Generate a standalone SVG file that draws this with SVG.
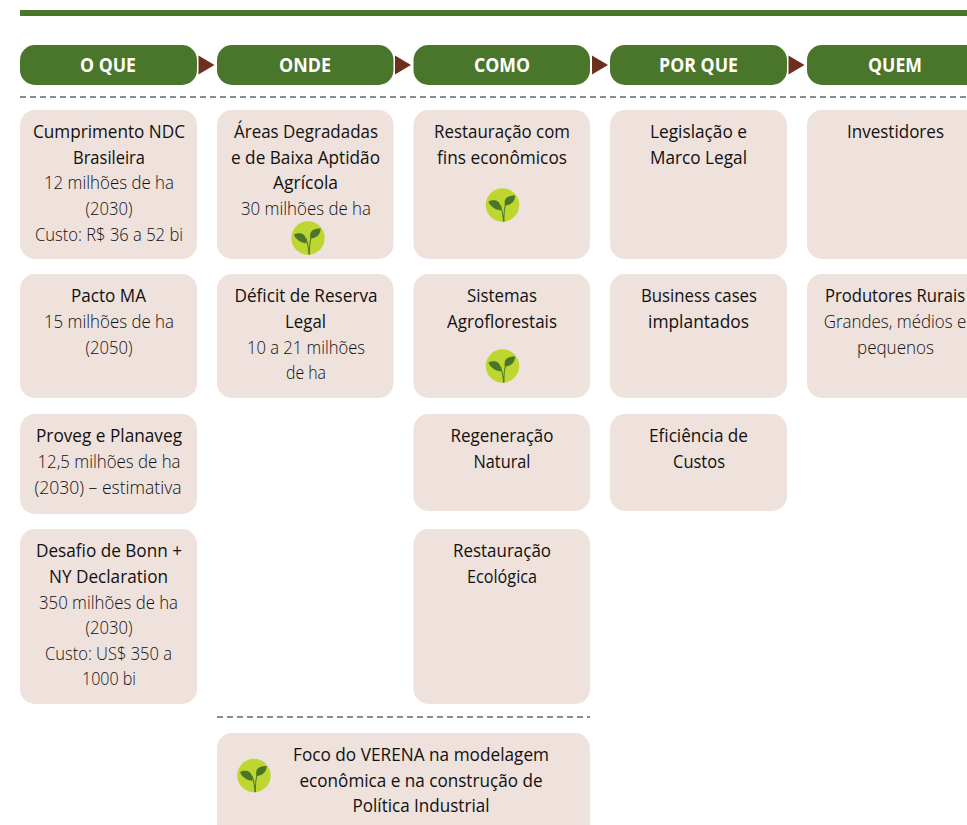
<svg xmlns="http://www.w3.org/2000/svg" width="967" height="825" viewBox="0 0 967 825">
<style>
text{font-family:"Open Sans","Noto Sans","Liberation Sans",sans-serif;text-anchor:middle;}
.h{font-size:20px;font-weight:700;fill:#fff}
.t{font-size:18px;font-weight:400;fill:#111}
.l{font-size:18px;font-weight:300;fill:#111}
.hd{fill:#4a762b}
.b{fill:#efe1dc}
.d{stroke:#8a8c8e;stroke-width:2;stroke-dasharray:6 4;fill:none}
.a{fill:#6e2f1f}
</style>
<defs>
<g id="sprout">
<circle cx="0" cy="0" r="16.7" fill="#bed630"/>
<path d="M-2.500 1C-0.500 6 0 11 0.500 16.700L2 16.700C2 10 2 5 3.500 0L2.500 -1C1.500 3 1 7 1 11C0.500 7-0.500 3-1.500 0Z" fill="#4f7d2c"/>
<path d="M-14 -3.500C-11 -5-6 -5.500-3.500 -2.500C-2 -0.500-1.500 3-1.500 5.500C-4 5-7.500 4.500-10 2C-12 0.500-13.500 -1.500-14 -3.500Z" fill="#4a762b"/>
<path d="M12.700 -9.500C9 -9.500 5 -9 3 -6C1.800 -4 2 -1.500 2.500 0.500C5 0.500 8 -0.500 10 -2.500C11.800 -4.500 12.500 -7 12.700 -9.500Z" fill="#4a762b"/>
</g>
</defs>
<rect x="20" y="10" width="947" height="6" fill="#4a762b"/>
<g id="connectors">
<path class="a" d="M198.500 55.500L214.500 65L198.500 74.500Z"/>
<path class="a" d="M395 55.500L411 65L395 74.500Z"/>
<path class="a" d="M592 55.500L608 65L592 74.500Z"/>
<path class="a" d="M788.500 55.500L804.500 65L788.500 74.500Z"/>
<path class="d" d="M20 97H967"/>
<path class="d" d="M217 717H590"/>
</g>
<g id="h1"><rect class="hd" x="20" y="45" width="177" height="40" rx="15"/><text class="h" x="108" y="71.500" textLength="56" lengthAdjust="spacingAndGlyphs">O QUE</text></g>
<g id="h2"><rect class="hd" x="217" y="45" width="176.500" height="40" rx="15"/><text class="h" x="305" y="71.500" textLength="52" lengthAdjust="spacingAndGlyphs">ONDE</text></g>
<g id="h3"><rect class="hd" x="413.500" y="45" width="176.500" height="40" rx="15"/><text class="h" x="502" y="71.500" textLength="56" lengthAdjust="spacingAndGlyphs">COMO</text></g>
<g id="h4"><rect class="hd" x="610" y="45" width="177" height="40" rx="15"/><text class="h" x="698.500" y="71.500" textLength="79" lengthAdjust="spacingAndGlyphs">POR QUE</text></g>
<g id="h5"><rect class="hd" x="807" y="45" width="180" height="40" rx="15"/><text class="h" x="895" y="71.500" textLength="54" lengthAdjust="spacingAndGlyphs">QUEM</text></g>

<g id="n1"><rect class="b" x="20" y="110" width="177" height="149" rx="15"/>
<text class="t" x="109" y="138" textLength="152" lengthAdjust="spacingAndGlyphs">Cumprimento NDC</text>
<text class="t" x="109" y="164" textLength="72" lengthAdjust="spacingAndGlyphs">Brasileira</text>
<text class="l" x="109" y="189" textLength="130" lengthAdjust="spacingAndGlyphs">12 milhões de ha</text>
<text class="l" x="109" y="215" textLength="47" lengthAdjust="spacingAndGlyphs">(2030)</text>
<text class="l" x="109" y="241" textLength="148" lengthAdjust="spacingAndGlyphs">Custo: R$ 36 a 52 bi</text></g>
<g id="n2"><rect class="b" x="217" y="110" width="176.500" height="149" rx="15"/>
<text class="t" x="306" y="138" textLength="144" lengthAdjust="spacingAndGlyphs">Áreas Degradadas</text>
<text class="t" x="305.500" y="164" textLength="149" lengthAdjust="spacingAndGlyphs">e de Baixa Aptidão</text>
<text class="t" x="305.500" y="189" textLength="65" lengthAdjust="spacingAndGlyphs">Agrícola</text>
<text class="l" x="306" y="215" textLength="130" lengthAdjust="spacingAndGlyphs">30 milhões de ha</text>
<use href="#sprout" x="308" y="238"/></g>
<g id="n3"><rect class="b" x="413.500" y="110" width="176.500" height="149" rx="15"/>
<text class="t" x="502" y="138" textLength="136" lengthAdjust="spacingAndGlyphs">Restauração com</text>
<text class="t" x="502" y="164" textLength="130" lengthAdjust="spacingAndGlyphs">fins econômicos</text>
<use href="#sprout" x="502.500" y="205"/></g>
<g id="n4"><rect class="b" x="610" y="110" width="177" height="149" rx="15"/>
<text class="t" x="698.500" y="138" textLength="97" lengthAdjust="spacingAndGlyphs">Legislação e</text>
<text class="t" x="698.500" y="164" textLength="97" lengthAdjust="spacingAndGlyphs">Marco Legal</text></g>
<g id="n5"><rect class="b" x="807" y="110" width="180" height="149" rx="15"/>
<text class="t" x="895.500" y="138" textLength="97" lengthAdjust="spacingAndGlyphs">Investidores</text></g>

<g id="n6"><rect class="b" x="20" y="274" width="177" height="124" rx="15"/>
<text class="t" x="108.500" y="302" textLength="75" lengthAdjust="spacingAndGlyphs">Pacto MA</text>
<text class="l" x="109" y="328" textLength="130" lengthAdjust="spacingAndGlyphs">15 milhões de ha</text>
<text class="l" x="109" y="354" textLength="47" lengthAdjust="spacingAndGlyphs">(2050)</text></g>
<g id="n7"><rect class="b" x="217" y="274" width="176.500" height="124" rx="15"/>
<text class="t" x="306" y="302" textLength="143" lengthAdjust="spacingAndGlyphs">Déficit de Reserva</text>
<text class="t" x="305.500" y="328" textLength="41" lengthAdjust="spacingAndGlyphs">Legal</text>
<text class="l" x="306" y="354" textLength="118" lengthAdjust="spacingAndGlyphs">10 a 21 milhões</text>
<text class="l" x="306" y="379" textLength="40" lengthAdjust="spacingAndGlyphs">de ha</text></g>
<g id="n8"><rect class="b" x="413.500" y="274" width="176.500" height="124" rx="15"/>
<text class="t" x="502" y="302" textLength="70" lengthAdjust="spacingAndGlyphs">Sistemas</text>
<text class="t" x="502" y="328" textLength="110" lengthAdjust="spacingAndGlyphs">Agroflorestais</text>
<use href="#sprout" x="502.500" y="366"/></g>
<g id="n9"><rect class="b" x="610" y="274" width="177" height="124" rx="15"/>
<text class="t" x="699" y="302" textLength="116" lengthAdjust="spacingAndGlyphs">Business cases</text>
<text class="t" x="698.500" y="328" textLength="101" lengthAdjust="spacingAndGlyphs">implantados</text></g>
<g id="n10"><rect class="b" x="807" y="274" width="180" height="124" rx="15"/>
<text class="t" transform="translate(895 302) scale(.925 1)">Produtores Rurais</text>
<text class="l" transform="translate(895 328) scale(.94 1)">Grandes, médios e</text>
<text class="l" x="895.500" y="354" textLength="77" lengthAdjust="spacingAndGlyphs">pequenos</text></g>

<g id="n11"><rect class="b" x="20" y="414" width="177" height="100" rx="15"/>
<text class="t" x="109" y="442" textLength="146" lengthAdjust="spacingAndGlyphs">Proveg e Planaveg</text>
<text class="l" x="109" y="468" textLength="143" lengthAdjust="spacingAndGlyphs">12,5 milhões de ha</text>
<text class="l" x="108" y="494" textLength="147" lengthAdjust="spacingAndGlyphs">(2030) – estimativa</text></g>
<g id="n12"><rect class="b" x="413.500" y="414" width="176.500" height="97" rx="15"/>
<text class="t" x="502" y="442" textLength="103" lengthAdjust="spacingAndGlyphs">Regeneração</text>
<text class="t" x="502" y="468" textLength="57" lengthAdjust="spacingAndGlyphs">Natural</text></g>
<g id="n13"><rect class="b" x="610" y="414" width="177" height="97" rx="15"/>
<text class="t" x="698.500" y="442" textLength="99" lengthAdjust="spacingAndGlyphs">Eficiência de</text>
<text class="t" x="699" y="468" textLength="52" lengthAdjust="spacingAndGlyphs">Custos</text></g>

<g id="n14"><rect class="b" x="20" y="529" width="177" height="175" rx="15"/>
<text class="t" x="109" y="557" textLength="146" lengthAdjust="spacingAndGlyphs">Desafio de Bonn +</text>
<text class="t" x="108.500" y="583" textLength="119" lengthAdjust="spacingAndGlyphs">NY Declaration</text>
<text class="l" x="108.500" y="609" textLength="139" lengthAdjust="spacingAndGlyphs">350 milhões de ha</text>
<text class="l" x="109" y="634" textLength="47" lengthAdjust="spacingAndGlyphs">(2030)</text>
<text class="l" x="108.500" y="660" textLength="127" lengthAdjust="spacingAndGlyphs">Custo: US$ 350 a</text>
<text class="l" x="109" y="685" textLength="54" lengthAdjust="spacingAndGlyphs">1000 bi</text></g>
<g id="n15"><rect class="b" x="413.500" y="529" width="176.500" height="175" rx="15"/>
<text class="t" x="502" y="557" textLength="98" lengthAdjust="spacingAndGlyphs">Restauração</text>
<text class="t" x="502" y="583" textLength="70" lengthAdjust="spacingAndGlyphs">Ecológica</text></g>

<g id="n16"><rect class="b" x="217" y="733" width="373" height="110" rx="15"/>
<use href="#sprout" x="254" y="775.500"/>
<text class="t" x="421" y="761" textLength="256" lengthAdjust="spacingAndGlyphs">Foco do VERENA na modelagem</text>
<text class="t" x="421" y="787" textLength="243" lengthAdjust="spacingAndGlyphs">econômica e na construção de</text>
<text class="t" x="421" y="812" textLength="137" lengthAdjust="spacingAndGlyphs">Política Industrial</text></g>
</svg>
